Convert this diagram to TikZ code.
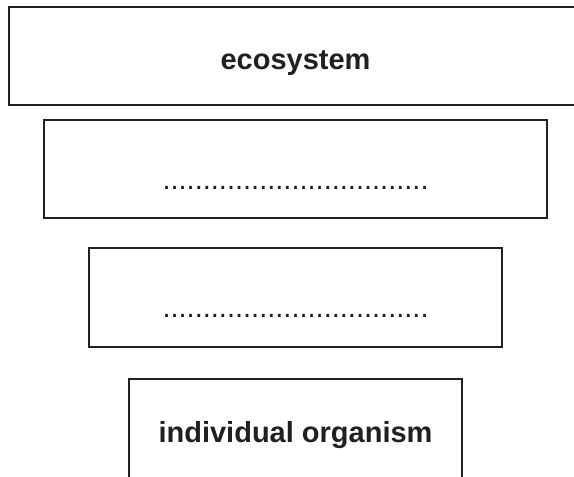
\documentclass[tikz,border=0pt]{standalone}
\usepackage{fontspec}
\setmainfont{Liberation Sans}
\definecolor{ink}{HTML}{231F20}
\begin{document}
\begin{tikzpicture}[x=1pt,y=-1pt,
  levelbox/.style={draw=ink,line width=2pt,rectangle,inner sep=0pt,outer sep=0pt},
  label/.style={text=ink,font=\fontsize{29}{34}\selectfont\bfseries,anchor=base,inner sep=0pt},
  blank/.style={text=ink,font=\fontsize{29}{34}\selectfont,anchor=base,inner sep=0pt}]
  \useasboundingbox (0,0) rectangle (574,477);
  % nested levels, widest at the top
  \node[levelbox,minimum width=581pt,minimum height=98pt] (eco) at (299.5,56) {};
  \node[levelbox,minimum width=503.6pt,minimum height=98pt] (lvltwo) at (295.5,169.3) {};
  \node[levelbox,minimum width=413pt,minimum height=98.4pt] (lvlthree) at (295.5,297.5) {};
  \node[levelbox,minimum width=333pt,minimum height=99.2pt] (org) at (295.8,428.9) {};
  % labels and answer lines
  \node[label] (ecotext) at (295.5,69) {ecosystem};
  \node[blank] (blanktwo) at (295.5,189.5) {.................................};
  \node[blank] (blankthree) at (295.5,317.5) {.................................};
  \node[label] (orgtext) at (295.5,442) {individual organism};
\end{tikzpicture}
\end{document}
